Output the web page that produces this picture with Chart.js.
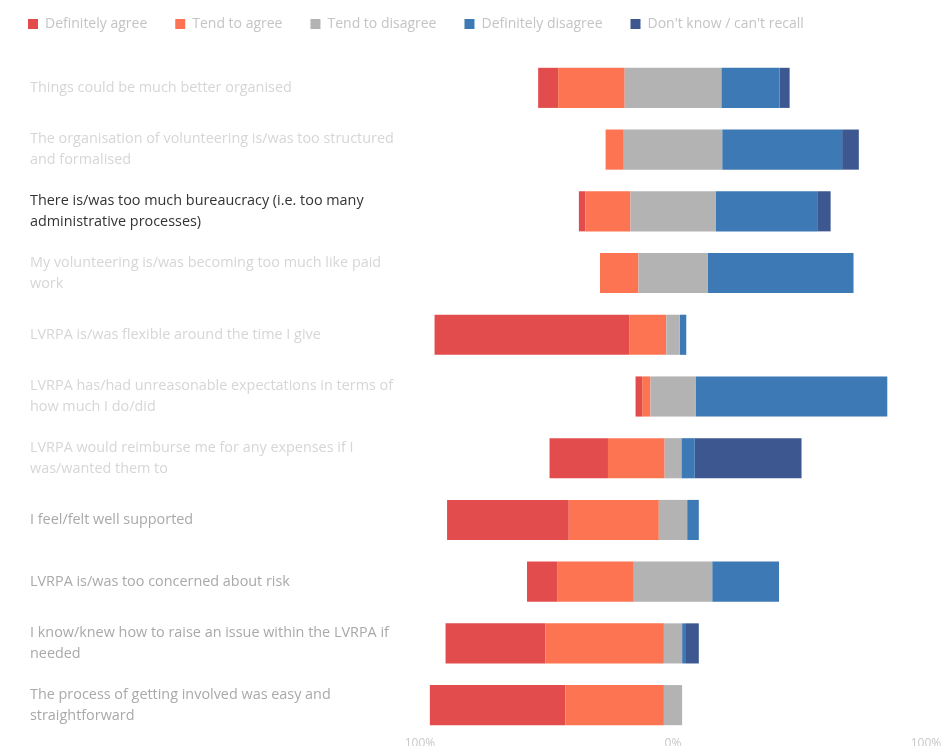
<!DOCTYPE html>
<html>
<head>
<meta charset="utf-8">
<script src="https://cdn.jsdelivr.net/npm/chart.js@4"></script>
<style>
  html, body { margin: 0; padding: 0; background: #fff; overflow: hidden; }
  #wrap { width: 946px; height: 754px; position: relative; }
</style>
</head>
<body>
<div id="wrap"><canvas id="chart"></canvas></div>
<script>
const statements = [
  "Things could be much better organised",
  ["The organisation of volunteering is/was too structured", "and formalised"],
  ["There is/was too much bureaucracy (i.e. too many", "administrative processes)"],
  ["My volunteering is/was becoming too much like paid", "work"],
  "LVRPA is/was flexible around the time I give",
  ["LVRPA has/had unreasonable expectations in terms of", "how much I do/did"],
  ["LVRPA would reimburse me for any expenses if I", "was/wanted them to"],
  "I feel/felt well supported",
  "LVRPA is/was too concerned about risk",
  ["I know/knew how to raise an issue within the LVRPA if", "needed"],
  ["The process of getting involved was easy and", "straightforward"]
];

// percentages
const definitelyAgree    = [7.9, 0, 2.6, 0, 77.1, 2.6, 23.1, 48.1, 11.9, 39.5, 53.6];
const tendToAgree        = [26.3, 7.2, 17.8, 15.2, 14.5, 3.3, 22.4, 35.6, 30.3, 46.8, 38.9];
const tendToDisagree     = [38.2, 38.9, 33.6, 27.3, 5.3, 17.8, 6.6, 11.2, 31.0, 7.2, 7.2];
const definitelyDisagree = [23.0, 47.4, 40.2, 57.7, 2.6, 75.8, 5.3, 4.6, 26.4, 1.2, 0];
const dontKnow           = [4.0, 6.6, 5.3, 0, 0, 0, 42.2, 0, 0, 5.4, 0];

const xTicks = [-100, 0, 100];

// label colours per row (one row is highlighted)
const labelColors = ["#d6d6d6", "#d6d6d6", "#333333", "#d6d6d6", "#d6d6d6", "#d6d6d6", "#d6d6d6",
                     "#a9a9a9", "#a9a9a9", "#a9a9a9", "#a9a9a9"];

const legendOrder = ["Definitely agree", "Tend to agree", "Tend to disagree", "Definitely disagree", "Don't know / can't recall"];

// "tend to disagree" is split around zero
const grayLeft = tendToDisagree.map(v => -v / 2);
const grayRight = tendToDisagree.map(v => v / 2);

const legendSpacer = {
  id: "legendSpacer",
  beforeInit(chart) {
    const origFit = chart.legend.fit;
    chart.legend.fit = function fit() {
      origFit.bind(chart.legend)();
      this.height += 16;
    };
  },
  afterLayout(chart) {
    chart.legend.left = 0;
    chart.legend.right = chart.width;
  }
};

const ctx = document.getElementById("chart").getContext("2d");
new Chart(ctx, {
  type: "bar",
  data: {
    labels: statements,
    datasets: [
      { label: "_grayLeft", data: grayLeft, backgroundColor: "#b3b3b3" },
      { label: "Tend to agree", data: tendToAgree.map(v => -v), backgroundColor: "#fc7452" },
      { label: "Definitely agree", data: definitelyAgree.map(v => -v), backgroundColor: "#e34c4c" },
      { label: "Tend to disagree", data: grayRight, backgroundColor: "#b3b3b3" },
      { label: "Definitely disagree", data: definitelyDisagree, backgroundColor: "#3d79b4" },
      { label: "Don't know / can't recall", data: dontKnow, backgroundColor: "#3d5791" }
    ]
  },
  options: {
    indexAxis: "y",
    responsive: true,
    maintainAspectRatio: false,
    animation: false,
    layout: { padding: { left: 30, right: 20, top: -11, bottom: 0 } },
    datasets: { bar: { barPercentage: 0.65, categoryPercentage: 1, borderWidth: 0 } },
    scales: {
      x: {
        stacked: true,
        min: -100,
        max: 100,
        grid: { display: false, drawTicks: false },
        border: { display: false },
        afterBuildTicks: s => { s.ticks = xTicks.map(v => ({ value: v })); },
        afterFit: s => { s.height = 18; },
        ticks: {
          color: "#c8c8c8",
          font: { family: "Open Sans", size: 12 },
          padding: 0,
          callback: v => Math.abs(v) + "%"
        }
      },
      y: {
        stacked: true,
        grid: { display: false },
        border: { display: false },
        afterFit: s => { s.width = 390; },
        ticks: {
          crossAlign: "far",
          autoSkip: false,
          color: c => labelColors[c.index],
          font: { family: "Open Sans", size: 14.4, lineHeight: 1.45 }
        }
      }
    },
    plugins: {
      legend: {
        position: "top",
        align: "start",
        labels: {
          boxWidth: 10,
          boxHeight: 10,
          padding: 28,
          color: "#c4c4c4",
          font: { family: "Open Sans", size: 14 },
          filter: item => item.text !== "_grayLeft",
          sort: (a, b) => legendOrder.indexOf(a.text) - legendOrder.indexOf(b.text)
        }
      },
      tooltip: { enabled: false }
    }
  },
  plugins: [legendSpacer]
});
</script>
</body>
</html>
